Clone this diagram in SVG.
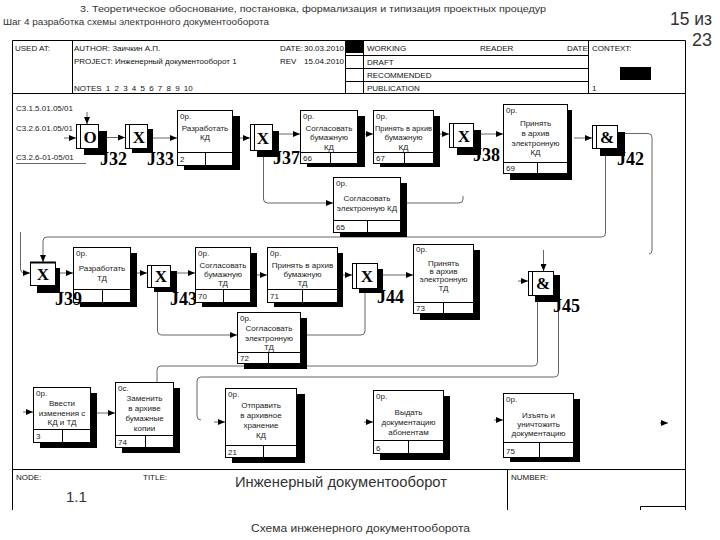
<svg xmlns="http://www.w3.org/2000/svg" width="720" height="540" viewBox="0 0 720 540">
<style>
.t{font-family:"Liberation Sans",Arial,sans-serif;font-size:8px;fill:#222}
.m{text-anchor:middle}
.f{font-family:"Liberation Sans",Arial,sans-serif;font-size:8px;fill:#111}
.h{font-family:"Liberation Sans",Arial,sans-serif;fill:#333}
.bx{fill:#fff;stroke:#000;stroke-width:1}
.sh{fill:#000}
.ln{stroke:#000;stroke-width:1;fill:none}
.c{fill:none;stroke:#666;stroke-width:1}
.jl{font-family:"Liberation Serif","Times New Roman",serif;font-weight:bold;font-size:18px;fill:#000}
.jt{font-family:"Liberation Serif","Times New Roman",serif;font-weight:bold;font-size:17px;fill:#000;text-anchor:middle}
</style>
<defs>
<marker id="a" markerUnits="userSpaceOnUse" markerWidth="7" markerHeight="6" refX="7" refY="3" orient="auto"><path d="M0,0 L7,3 L0,6 z" fill="#000"/></marker>
</defs>
<rect width="720" height="540" fill="#fff"/>
<!-- header -->
<text class="h" x="80" y="12" font-size="9.5" textLength="466" lengthAdjust="spacingAndGlyphs">3. Теоретическое обоснование, постановка, формализация и типизация проектных процедур</text>
<text class="h" x="3" y="25" font-size="9.5" textLength="266" lengthAdjust="spacingAndGlyphs">Шаг 4 разработка схемы электронного документооборота</text>
<text class="h" x="670" y="25" font-size="18" textLength="42" lengthAdjust="spacingAndGlyphs">15 из</text>
<text class="h" x="692" y="46" font-size="18" textLength="20" lengthAdjust="spacingAndGlyphs">23</text>
<!-- frame -->
<g id="frame">
<path class="ln" d="M12.5,40.5 H685.5 V510 M12.5,40.5 V510 M12.5,93.5 H685.5 M72.5,40.5 V93.5 M345.5,40.5 V93.5 M363.5,40.5 V93.5 M588.5,40.5 V93.5 M345.5,55.5 H588.5 M345.5,68.5 H588.5 M345.5,81.5 H588.5 M12.5,469.5 H685.5 M507.5,469.5 V510 M640.5,510 V506.5 H685.5"/>
<rect class="sh" x="345" y="40" width="18" height="13"/>
<rect class="sh" x="620" y="67" width="31" height="13"/>
<text class="f" x="15" y="51">USED AT:</text>
<text class="f" x="74" y="51">AUTHOR:  Заичкин А.П.</text>
<text class="f" x="74" y="64">PROJECT:  Инженерный документооборот 1</text>
<text class="f" x="74" y="91" word-spacing="2">NOTES  1 2 3 4 5 6 7 8 9 10</text>
<text class="f" x="280" y="51">DATE:</text>
<text class="f" x="304" y="51">30.03.2010</text>
<text class="f" x="280" y="64">REV</text>
<text class="f" x="304" y="64">15.04.2010</text>
<text class="f" x="367" y="51">WORKING</text>
<text class="f" x="480" y="51">READER</text>
<text class="f" x="567" y="51">DATE</text>
<text class="f" x="367" y="65">DRAFT</text>
<text class="f" x="367" y="78">RECOMMENDED</text>
<text class="f" x="367" y="91">PUBLICATION</text>
<text class="f" x="592" y="51">CONTEXT:</text>
<text class="f" x="592" y="91">1</text>
<text class="f" x="16" y="480">NODE:</text>
<text class="f" x="143" y="480">TITLE:</text>
<text class="f" x="511" y="480">NUMBER:</text>
<text class="h" x="235" y="487" font-size="15" fill="#111" textLength="212" lengthAdjust="spacingAndGlyphs">Инженерный документооборот</text>
<text class="h" x="66" y="502" font-size="15" fill="#111">1.1</text>
</g>
<text class="h" x="251" y="532" font-size="11.5" textLength="219" lengthAdjust="spacingAndGlyphs">Схема инженерного документооборота</text>
<!-- referents -->
<g id="referents">
<text class="t" x="16" y="111">C3.1.5.01.05/01</text>
<text class="t" x="16" y="131">C3.2.6.01.05/01</text>
<text class="t" x="16" y="160">C3.2.6-01-05/01</text>
</g>
<!-- connectors -->
<g id="connectors">
<path class="c" d="M87,112 V124" marker-end="url(#a)"/>
<path class="c" d="M64,138 H76" marker-end="url(#a)"/>
<path class="c" stroke="#000" d="M16,163.5 H86"/>
<path class="c" d="M107,137.5 H125" marker-end="url(#a)"/>
<path class="c" d="M153,138 H177" marker-end="url(#a)"/>
<path class="c" d="M240,138 H250" marker-end="url(#a)"/>
<path class="c" d="M272,134 H300" marker-end="url(#a)"/>
<path class="c" d="M365,134 H373" marker-end="url(#a)"/>
<path class="c" d="M440,134 H449" marker-end="url(#a)"/>
<path class="c" d="M481,134 H503" marker-end="url(#a)"/>
<path class="c" d="M574,138 H592" marker-end="url(#a)"/>
<path class="c" d="M625,133.5 H648 Q652,133.5 652,137.5 V250 Q652,254 649,254"/>
<path class="c" stroke="#333" d="M605.5,156 V233 Q605.5,237 601.5,237 H47 Q43,237 43,241 V262" marker-end="url(#a)"/>
<path class="c" d="M20.5,232 V269 Q20.5,273 24.5,273 H30" marker-end="url(#a)"/>
<path class="c" stroke="#333" d="M263.5,150 V199 Q263.5,203 267.5,203 H333" marker-end="url(#a)"/>
<path class="c" d="M407,203 H459 Q463,203 463,199 V196"/>
<path class="c" d="M60,273 H73" marker-end="url(#a)"/>
<path class="c" d="M137,273 H147" marker-end="url(#a)"/>
<path class="c" d="M177,273 H195" marker-end="url(#a)"/>
<path class="c" d="M257,275 H267" marker-end="url(#a)"/>
<path class="c" d="M343,275 H352" marker-end="url(#a)"/>
<path class="c" d="M383,275 H413" marker-end="url(#a)"/>
<path class="c" stroke="#333" d="M157.5,292 V331 Q157.5,335 161.5,335 H237" marker-end="url(#a)"/>
<path class="c" stroke="#333" d="M307,335 H361 Q365,335 365,331 V293"/>
<path class="c" d="M518,281 H528" marker-end="url(#a)"/>
<path class="c" stroke="#333" d="M543.5,250 V271" marker-end="url(#a)"/>
<path class="c" d="M537.5,302 V362 Q537.5,366 533.5,366 H161 Q157,366 157,370 V382"/>
<path class="c" stroke="#333" d="M558.5,302 V373 Q558.5,377 554.5,377 H201 Q197,377 197,381 V416 Q197,420 201,420"/>
<path class="c" d="M23,412 H33" marker-end="url(#a)"/>
<path class="c" d="M97,413 H115" marker-end="url(#a)"/>
<path class="c" d="M214,422 H225" marker-end="url(#a)"/>
<path class="c" d="M364,422 H373" marker-end="url(#a)"/>
<path class="c" d="M494,420 H503" marker-end="url(#a)"/>
<path class="c" stroke="#fff" d="M660,423 H668" marker-end="url(#a)"/>
</g>
<!-- junctions -->
<g id="J32"><rect class="sh" x="84" y="131" width="23" height="24"/><rect class="bx" x="76.5" y="124.5" width="22" height="24"/><path class="ln" d="M80.5,124.5 V148.5"/><text class="jt" x="90" y="143">O</text><text class="jl" x="100" y="165">J32</text></g>
<g id="J33"><rect class="sh" x="132" y="129" width="21" height="24"/><rect class="bx" x="125.5" y="124.5" width="22" height="24"/><path class="ln" d="M129.5,124.5 V148.5"/><text class="jt" x="139" y="143">X</text><text class="jl" x="147" y="165">J33</text></g>
<g id="J37"><rect class="sh" x="257" y="131" width="22" height="26"/><rect class="bx" x="250.5" y="124.5" width="22" height="26"/><path class="ln" d="M254.5,124.5 V150.5"/><text class="jt" x="263" y="144">X</text><text class="jl" x="273" y="164">J37</text></g>
<g id="J38"><rect class="sh" x="457" y="130" width="24" height="25"/><rect class="bx" x="449.5" y="123.5" width="24" height="24"/><path class="ln" d="M453.5,123.5 V147.5"/><text class="jt" x="464" y="142">X</text><text class="jl" x="473" y="161">J38</text></g>
<g id="J42"><rect class="sh" x="600" y="132" width="25" height="24"/><rect class="bx" x="592.5" y="125.5" width="25" height="23"/><path class="ln" d="M596.5,125.5 V148.5"/><text class="jt" x="607" y="143">&amp;</text><text class="jl" x="617" y="165">J42</text></g>
<g id="J43"><rect class="sh" x="154" y="271" width="23" height="21"/><rect class="bx" x="147.5" y="265.5" width="23" height="22"/><path class="ln" d="M151.5,265.5 V287.5"/><text class="jt" x="161" y="282">X</text><text class="jl" x="170" y="305">J43</text></g>
<g id="J44"><rect class="sh" x="359" y="269" width="24" height="24"/><rect class="bx" x="352.5" y="263.5" width="25" height="25"/><path class="ln" d="M356.5,263.5 V288.5"/><text class="jt" x="367" y="282">X</text><text class="jl" x="377" y="303">J44</text></g>
<g id="J45"><rect class="sh" x="535" y="275" width="25" height="27"/><rect class="bx" x="528.5" y="271.5" width="25" height="24"/><path class="ln" d="M532.5,271.5 V295.5"/><text class="jt" x="543" y="289">&amp;</text><text class="jl" x="553" y="312">J45</text></g>
<!-- activity boxes -->
<g id="b2"><rect class="sh" x="184" y="116" width="56" height="54"/><rect class="bx" x="177.5" y="110.5" width="55" height="55"/><path class="ln" d="M177.5,152.5 H232.5 M205.5,152.5 V165.5"/><text class="t" x="180" y="119">0р.</text><text class="t m" x="205" y="131">Разработать</text><text class="t m" x="205" y="140">КД</text><text class="t" x="180" y="162">2</text></g>
<g id="b66"><rect class="sh" x="307" y="116" width="58" height="51"/><rect class="bx" x="300.5" y="110.5" width="57" height="53"/><path class="ln" d="M300.5,152.5 H357.5 M330.5,152.5 V163.5"/><text class="t" x="303" y="119">0р.</text><text class="t m" x="329" y="131">Согласовать</text><text class="t m" x="329" y="140">бумажную</text><text class="t m" x="329" y="150">КД</text><text class="t" x="303" y="161">66</text></g>
<g id="b67"><rect class="sh" x="380" y="116" width="60" height="51"/><rect class="bx" x="373.5" y="110.5" width="60" height="53"/><path class="ln" d="M373.5,152.5 H433.5 M404.5,152.5 V163.5"/><text class="t" x="376" y="119">0р.</text><text class="t m" x="403.5" y="131" textLength="57" lengthAdjust="spacingAndGlyphs">Принять в архив</text><text class="t m" x="403.5" y="140">бумажную</text><text class="t m" x="403.5" y="150">КД</text><text class="t" x="376" y="161">67</text></g>
<g id="b69"><rect class="sh" x="510" y="110" width="62" height="70"/><rect class="bx" x="503.5" y="104.5" width="64" height="69"/><path class="ln" d="M503.5,162.5 H567.5 M537.5,162.5 V173.5"/><text class="t" x="506" y="113">0р.</text><text class="t m" x="535.5" y="126">Принять</text><text class="t m" x="535.5" y="136">в архив</text><text class="t m" x="535.5" y="146">электронную</text><text class="t m" x="535.5" y="155">КД</text><text class="t" x="506" y="171">69</text></g>
<g id="b65"><rect class="sh" x="340" y="183" width="67" height="54"/><rect class="bx" x="333.5" y="177.5" width="67" height="55"/><path class="ln" d="M333.5,220.5 H400.5 M367.5,220.5 V232.5"/><text class="t" x="336" y="186">0р.</text><text class="t m" x="367" y="201">Согласовать</text><text class="t m" x="367" y="211">электронную КД</text><text class="t" x="336" y="230">65</text></g>
<g id="bTD"><rect class="sh" x="80" y="253" width="57" height="54"/><rect class="bx" x="73.5" y="247.5" width="57" height="55"/><path class="ln" d="M73.5,289.5 H130.5 M102.5,289.5 V302.5"/><text class="t" x="76" y="256">0р.</text><text class="t m" x="102" y="271">Разработать</text><text class="t m" x="102" y="281">ТД</text></g>
<g id="J39"><rect class="sh" x="37" y="268" width="23" height="25"/><rect class="bx" x="30.5" y="262.5" width="25" height="23"/><path d="M30,262.5 H56" stroke="#000" stroke-width="2"/><text class="jt" x="43" y="280">X</text><text class="jl" x="55" y="305">J39</text></g>
<g id="b70"><rect class="sh" x="202" y="253" width="55" height="54"/><rect class="bx" x="195.5" y="247.5" width="55" height="55"/><path class="ln" d="M195.5,289.5 H250.5 M223.5,289.5 V302.5"/><text class="t" x="198" y="256">0р.</text><text class="t m" x="223" y="268">Согласовать</text><text class="t m" x="223" y="277">бумажную</text><text class="t m" x="223" y="286">ТД</text><text class="t" x="198" y="299">70</text></g>
<g id="b71"><rect class="sh" x="274" y="253" width="69" height="54"/><rect class="bx" x="267.5" y="247.5" width="70" height="55"/><path class="ln" d="M267.5,289.5 H337.5 M302.5,289.5 V302.5"/><text class="t" x="270" y="256">0р.</text><text class="t m" x="302.5" y="268">Принять в архив</text><text class="t m" x="302.5" y="277">бумажную</text><text class="t m" x="302.5" y="286">ТД</text><text class="t" x="270" y="299">71</text></g>
<g id="b73"><rect class="sh" x="420" y="250" width="60" height="70"/><rect class="bx" x="413.5" y="244.5" width="60" height="69"/><path class="ln" d="M413.5,302.5 H473.5 M443.5,302.5 V313.5"/><text class="t" x="416" y="252">0р.</text><text class="t m" x="443.5" y="266">Принять</text><text class="t m" x="443.5" y="274">в архив</text><text class="t m" x="443.5" y="282">электронную</text><text class="t m" x="443.5" y="291">ТД</text><text class="t" x="416" y="311">73</text></g>
<g id="b72"><rect class="sh" x="244" y="318" width="63" height="51"/><rect class="bx" x="237.5" y="312.5" width="63" height="51"/><path class="ln" d="M237.5,352.5 H300.5 M268.5,352.5 V363.5"/><text class="t" x="240" y="321">0р.</text><text class="t m" x="269" y="331">Согласовать</text><text class="t m" x="269" y="341">электронную</text><text class="t m" x="269" y="350">ТД</text><text class="t" x="240" y="361">72</text></g>
<g id="b3"><rect class="sh" x="40" y="393" width="57" height="55"/><rect class="bx" x="33.5" y="387.5" width="57" height="55"/><path class="ln" d="M33.5,429.5 H90.5 M62.5,429.5 V442.5"/><text class="t" x="36" y="396">0р.</text><text class="t m" x="62" y="406">Ввести</text><text class="t m" x="62" y="416">изменения с</text><text class="t m" x="62" y="425">КД и ТД</text><text class="t" x="36" y="439">3</text></g>
<g id="b74"><rect class="sh" x="122" y="388" width="58" height="65"/><rect class="bx" x="115.5" y="382.5" width="58" height="65"/><path class="ln" d="M115.5,435.5 H173.5 M145.5,435.5 V447.5"/><text class="t" x="118" y="391">0с.</text><text class="t m" x="144.5" y="401">Заменить</text><text class="t m" x="144.5" y="411">в архиве</text><text class="t m" x="144.5" y="421">бумажные</text><text class="t m" x="144.5" y="431">копии</text><text class="t" x="118" y="445">74</text></g>
<g id="b21"><rect class="sh" x="232" y="394" width="73" height="69"/><rect class="bx" x="225.5" y="388.5" width="71" height="69"/><path class="ln" d="M225.5,445.5 H296.5 M263.5,445.5 V457.5"/><text class="t" x="228" y="397">0р.</text><text class="t m" x="261" y="408">Отправить</text><text class="t m" x="261" y="418">в архивное</text><text class="t m" x="261" y="428">хранение</text><text class="t m" x="261" y="438">КД</text><text class="t" x="228" y="455">21</text></g>
<g id="b6"><rect class="sh" x="380" y="396" width="70" height="64"/><rect class="bx" x="373.5" y="390.5" width="70" height="63"/><path class="ln" d="M373.5,440.5 H443.5 M408.5,440.5 V453.5"/><text class="t" x="376" y="399">0р.</text><text class="t m" x="408.5" y="415">Выдать</text><text class="t m" x="408.5" y="425">документацию</text><text class="t m" x="408.5" y="435">абонентам</text><text class="t" x="376" y="451">6</text></g>
<g id="b75"><rect class="sh" x="510" y="399" width="70" height="63"/><rect class="bx" x="503.5" y="393.5" width="70" height="64"/><path class="ln" d="M503.5,442.5 H573.5 M539.5,442.5 V457.5"/><text class="t" x="506" y="402">0р.</text><text class="t m" x="538.5" y="418">Изъять и</text><text class="t m" x="538.5" y="427">уничтожить</text><text class="t m" x="538.5" y="436">документацию</text><text class="t" x="506" y="454">75</text></g>
</svg>
